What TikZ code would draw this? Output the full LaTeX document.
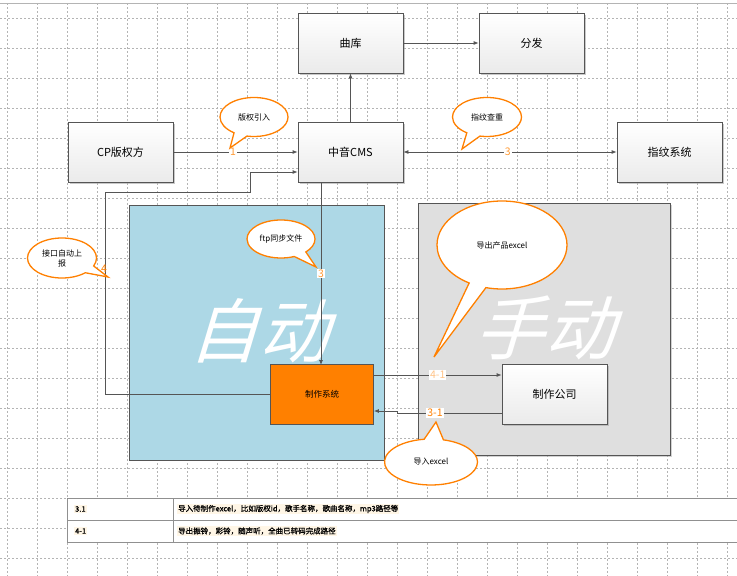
\documentclass[tikz,border=0pt]{standalone}
\usepackage{fontspec}
\setmainfont{Noto Sans CJK SC}
\newfontfamily\cjkslant{Noto Sans CJK SC}[FakeSlant=0.3]
\newfontfamily\cjkbold{Noto Sans CJK SC}[FakeBold=1.2]
\usetikzlibrary{shapes.callouts,arrows.meta,shadows}
\definecolor{lineg}{HTML}{555555}
\definecolor{gridg}{HTML}{B4B4B4}
\definecolor{callorange}{HTML}{FF8000}
\definecolor{autoblue}{HTML}{ADD8E6}
\definecolor{manualgray}{HTML}{DFDFDF}
\definecolor{cream}{HTML}{FFF6E6}
\definecolor{lightorange}{HTML}{FFC488}
\tikzset{
  boxnode/.style={draw=lineg, line width=0.8pt, minimum width=105pt, minimum height=60pt,
    inner sep=0pt, top color=white, bottom color=black!8, font=\fontsize{11}{12}\selectfont,
    drop shadow={shadow xshift=1.5pt, shadow yshift=-1.5pt, fill=black!35, opacity=0.6}},
  arr/.style={draw=lineg, line width=0.8pt, -{Latex[length=5pt,width=4pt]}},
  darr/.style={draw=lineg, line width=0.8pt, {Latex[length=5pt,width=4pt]}-{Latex[length=5pt,width=4pt]}},
  bubble/.style={ellipse callout, draw=callorange, fill=white, line width=1.3pt, inner sep=0pt,
    font=\fontsize{8}{10}\selectfont, align=center, callout pointer arc=24},
  numlbl/.style={fill=white, inner sep=1pt, text=callorange!80, font=\fontsize{10.5}{11}\selectfont},
  bigword/.style={text=white, font=\fontsize{70}{70}\cjkslant},
  cell/.style={anchor=west, inner sep=1pt, fill=cream, font=\fontsize{7.5}{9}\cjkbold}
}
\begin{document}
\begin{tikzpicture}[x=1pt, y=-1pt]
\useasboundingbox (0,0) rectangle (737,576);
\fill[white] (0,0) rectangle (737,576);
% grid
\foreach \gx in {7,37,...,737} \draw[gridg, line width=0.6pt, dash pattern=on 2pt off 2pt] (\gx,3) -- (\gx,576);
\foreach \gy in {18,48,...,576} \draw[gridg, line width=0.6pt, dash pattern=on 2pt off 2pt] (0,\gy) -- (737,\gy);
\draw[gridg, line width=0.8pt] (0,3) -- (737,3);

% regions
\draw[lineg, line width=0.8pt, fill=autoblue] (129,205) rectangle (384,460);
\draw[lineg, line width=0.8pt, fill=manualgray, drop shadow={shadow xshift=1.5pt, shadow yshift=-1.5pt, fill=black!35, opacity=0.5}] (418,203) rectangle (670,455);
\node[bigword] (zd) at (258,331) {自动};
\node[bigword] (sd) at (544,328) {手动};

% boxes
\node[boxnode] (qk) at (350.5,43) {曲库};
\node[boxnode] (ff) at (531.5,43) {分发};
\node[boxnode] (cp) at (120.5,152) {CP版权方};
\node[boxnode] (cms) at (350.5,152) {中音CMS};
\node[boxnode] (zw) at (669.5,152) {指纹系统};
\node[draw=lineg, line width=0.8pt, fill=callorange, minimum width=103pt, minimum height=60pt, inner sep=0pt,
  font=\fontsize{8.5}{10}\selectfont] (zzxt) at (322,394.5) {制作系统};
\node[boxnode] (zzgs) at (554.5,394) {制作公司};

% connectors
\draw[arr] (qk) -- (ff);
\draw[arr] (cms) -- (qk);
\draw[arr] (cp) -- (cms) node[numlbl, pos=0.48] (l1) {1};
\draw[darr] (cms) -- (zw) node[numlbl, pos=0.49] (l3) {3};
\coordinate (c3a) at (321,182);
\coordinate (c3b) at (321,365);
\draw[arr] (c3a) -- (c3b) node[numlbl, pos=0.5] (l3b) {3};
\coordinate (c4a) at (105,192);
\coordinate (c4b) at (250,192);
\coordinate (c4c) at (250,172);
\draw[arr] (zzxt.west) -| (c4a) -- (c4b) -- (c4c) -- (cms.west |- c4c);
\node[numlbl, fill=none, text=callorange] (l4) at (104,269) {4};
\draw[arr] ([yshift=19.5pt]zzxt.east) -- ([yshift=19pt]zzgs.west) node[numlbl, pos=0.5, text=lightorange] (l41) {4-1};
\coordinate (j1) at (397,413);
\coordinate (j2) at (397,411);
\draw[arr] ([yshift=-19pt]zzgs.west) -- (j1) -- (j2) -- ([yshift=-16.5pt]zzxt.east);
\node[numlbl, text=callorange] (l31) at (435,413) {3-1};

% callouts
\coordinate (p1) at (230,148);
\node[bubble, minimum width=68pt, minimum height=39pt, callout absolute pointer={(p1)}] (b1) at (254,117) {版权引入};
\coordinate (p2) at (462,149);
\node[bubble, minimum width=69pt, minimum height=39pt, callout absolute pointer={(p2)}] (b2) at (487,117) {指纹查重};
\coordinate (p3) at (108,277);
\node[bubble, minimum width=69pt, minimum height=40pt, callout absolute pointer={(p3)}] (b3) at (62,258) {接口自动上\\报};
\coordinate (p4) at (316,267);
\node[bubble, minimum width=68pt, minimum height=38pt, callout absolute pointer={(p4)}] (b4) at (281,239) {ftp同步文件};
\coordinate (p5) at (434,357);
\node[bubble, minimum width=130pt, minimum height=88pt, callout absolute pointer={(p5)}, callout pointer arc=16] (b5) at (502,245) {导出产品excel};
\coordinate (p6) at (436,422);
\node[bubble, minimum width=93pt, minimum height=46pt, callout absolute pointer={(p6)}] (b6) at (431,462) {导入excel};

% table
\draw[gridg!80!black, line width=0.8pt, fill=white] (67,498) rectangle (740,542);
\draw[gridg!80!black, line width=0.8pt] (67,520) -- (740,520);
\draw[gridg!80!black, line width=0.8pt] (173,498) -- (173,542);
\node[cell] (t11) at (74,509) {3.1};
\node[cell] (t12) at (177,509) {导入待制作excel，比如版权id，歌手名称，歌曲名称，mp3路径等};
\node[cell] (t21) at (74,531) {4-1};
\node[cell] (t22) at (177,531) {导出振铃，彩铃，随声听，全曲已转码完成路径};
\end{tikzpicture}
\end{document}
